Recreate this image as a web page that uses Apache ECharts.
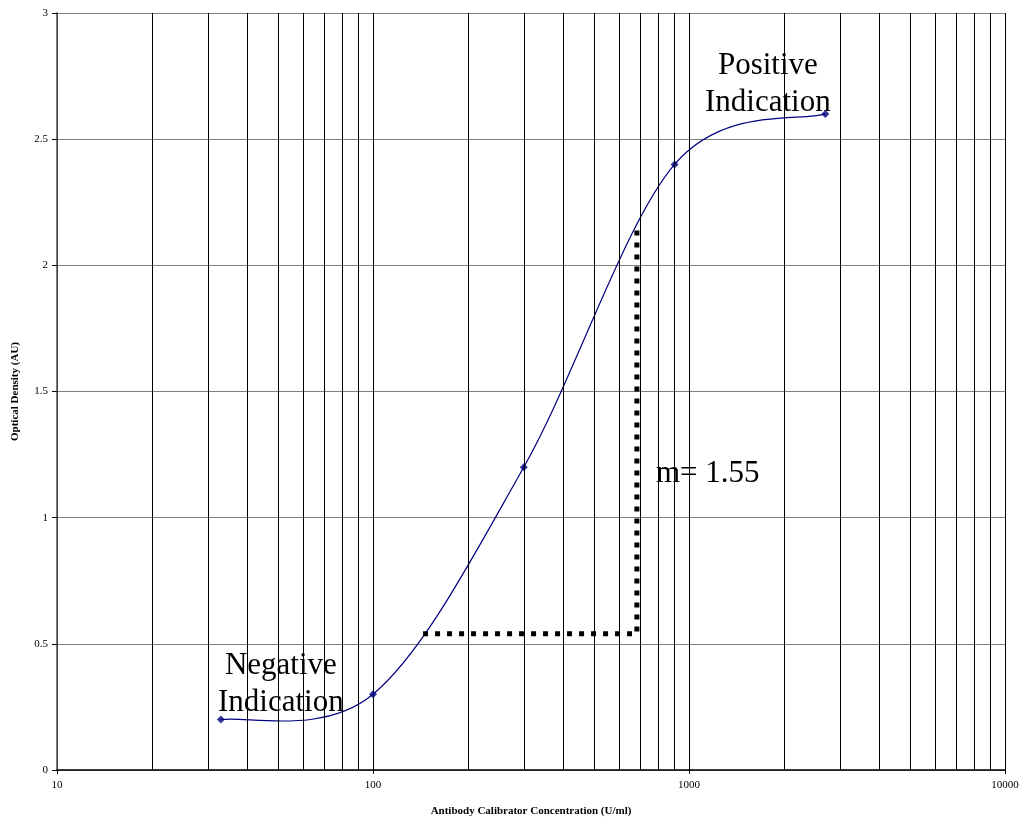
<!DOCTYPE html>
<html>
<head>
<meta charset="utf-8">
<script src="https://cdn.jsdelivr.net/npm/echarts@6/dist/echarts.min.js"></script>
<style>html,body{margin:0;padding:0;background:#fff}#c{width:1022px;height:822px}</style>
</head>
<body>
<div id="c"></div>
<script>
// Data
const concentration = [33, 100, 300, 900, 2700];
const opticalDensity = [0.2, 0.3, 1.2, 2.4, 2.6];
const slopeGuide = [[144, 0.54], [684, 0.54], [684, 2.16]];
const minorGridValues = [20,30,40,50,60,70,80,90,200,300,400,500,600,700,800,900,2000,3000,4000,5000,6000,7000,8000,9000];
const xTickLabels = ['10', '100', '1000', '10000'];
const yTickLabels = ['0', '0.5', '1', '1.5', '2', '2.5', '3'];
const annotations = ['Positive\nIndication', 'Negative\nIndication', 'm= 1.55'];

const serif = '"Liberation Serif", "Times New Roman", serif';
const points = concentration.map((c, i) => [c, opticalDensity[i]]);
const chart = echarts.init(document.getElementById('c'), null, {renderer: 'canvas'});

// Smoothed curve (spreadsheet-style Bezier) through the data points, positioned by the axes
function renderCurve(params, api) {
  if (params.dataIndex !== 0) return null;
  const p = points.map(d => api.coord(d));
  const n = p.length;
  const path = [];
  for (let i = 0; i < n - 1; i++) {
    const p0 = p[Math.max(i - 1, 0)], p1 = p[i], p2 = p[i + 1], p3 = p[Math.min(i + 2, n - 1)];
    const c1 = [p1[0] + (p2[0] - p0[0]) / 6, p1[1] + (p2[1] - p0[1]) / 6];
    const c2 = [p2[0] - (p3[0] - p1[0]) / 6, p2[1] - (p3[1] - p1[1]) / 6];
    if (i === 0) path.push('M' + p1[0] + ' ' + p1[1]);
    path.push('C' + c1[0] + ' ' + c1[1] + ' ' + c2[0] + ' ' + c2[1] + ' ' + p2[0] + ' ' + p2[1]);
  }
  return {
    type: 'path',
    shape: {pathData: path.join(' ')},
    style: {fill: 'none', stroke: '#000080', lineWidth: 1.2}
  };
}

chart.setOption({
  animation: false,
  backgroundColor: '#fff',
  grid: {left: 57, right: 17, top: 13, bottom: 52, containLabel: false},
  xAxis: {
    type: 'log', logBase: 10, min: 10, max: 10000,
    name: 'Antibody Calibrator Concentration (U/ml)',
    nameLocation: 'middle', nameGap: 36,
    nameTextStyle: {fontFamily: serif, fontWeight: 'bold', fontSize: 11, color: '#000'},
    axisLine: {onZero: false, lineStyle: {color: '#000', width: 1.5}},
    axisTick: {show: true, length: 4, lineStyle: {color: '#000'}},
    axisLabel: {fontFamily: serif, fontSize: 11, color: '#000', margin: 10,
      formatter: v => { const s = String(Math.round(v)); return xTickLabels.includes(s) ? s : ''; }},
    splitLine: {show: true, lineStyle: {color: '#000', width: 1}},
    minorTick: {show: false}, minorSplitLine: {show: false}
  },
  yAxis: {
    type: 'value', min: 0, max: 3, interval: 0.5,
    name: 'Optical Density (AU)',
    nameLocation: 'middle', nameGap: 36, nameRotate: 90,
    nameTextStyle: {fontFamily: serif, fontWeight: 'bold', fontSize: 11, color: '#000'},
    axisLine: {show: true, lineStyle: {color: '#555', width: 1.5}},
    axisTick: {show: true, length: 5, lineStyle: {color: '#000'}},
    axisLabel: {fontFamily: serif, fontSize: 11, color: '#000', margin: 9,
      formatter: (v, i) => yTickLabels[i]},
    splitLine: {show: true, lineStyle: {color: '#808080', width: 1}}
  },
  series: [
    {
      type: 'line', data: [], silent: true,
      markLine: {
        silent: true, symbol: 'none', label: {show: false}, animation: false,
        lineStyle: {color: '#000', width: 1, type: 'solid'},
        data: minorGridValues.map(v => ({xAxis: v}))
      }
    },
    {
      type: 'line', data: slopeGuide, symbol: 'none', silent: true,
      lineStyle: {color: '#000', width: 5, type: [5, 7], cap: 'butt'}
    },
    {
      type: 'custom', data: points, renderItem: renderCurve, silent: true, clip: true
    },
    {
      type: 'scatter', data: points,
      symbol: 'diamond', symbolSize: 8,
      itemStyle: {color: '#000080'}
    }
  ],
  graphic: [
    {type: 'text', left: 705, top: 47, style: {text: annotations[0], font: '31px ' + serif, fill: '#000', align: 'center', textAlign: 'center', lineHeight: 37}},
    {type: 'text', left: 218, top: 647, style: {text: annotations[1], font: '31px ' + serif, fill: '#000', align: 'center', textAlign: 'center', lineHeight: 37}},
    {type: 'text', left: 656, top: 458, style: {text: annotations[2], font: '31px ' + serif, fill: '#000'}}
  ]
});
</script>
</body>
</html>
